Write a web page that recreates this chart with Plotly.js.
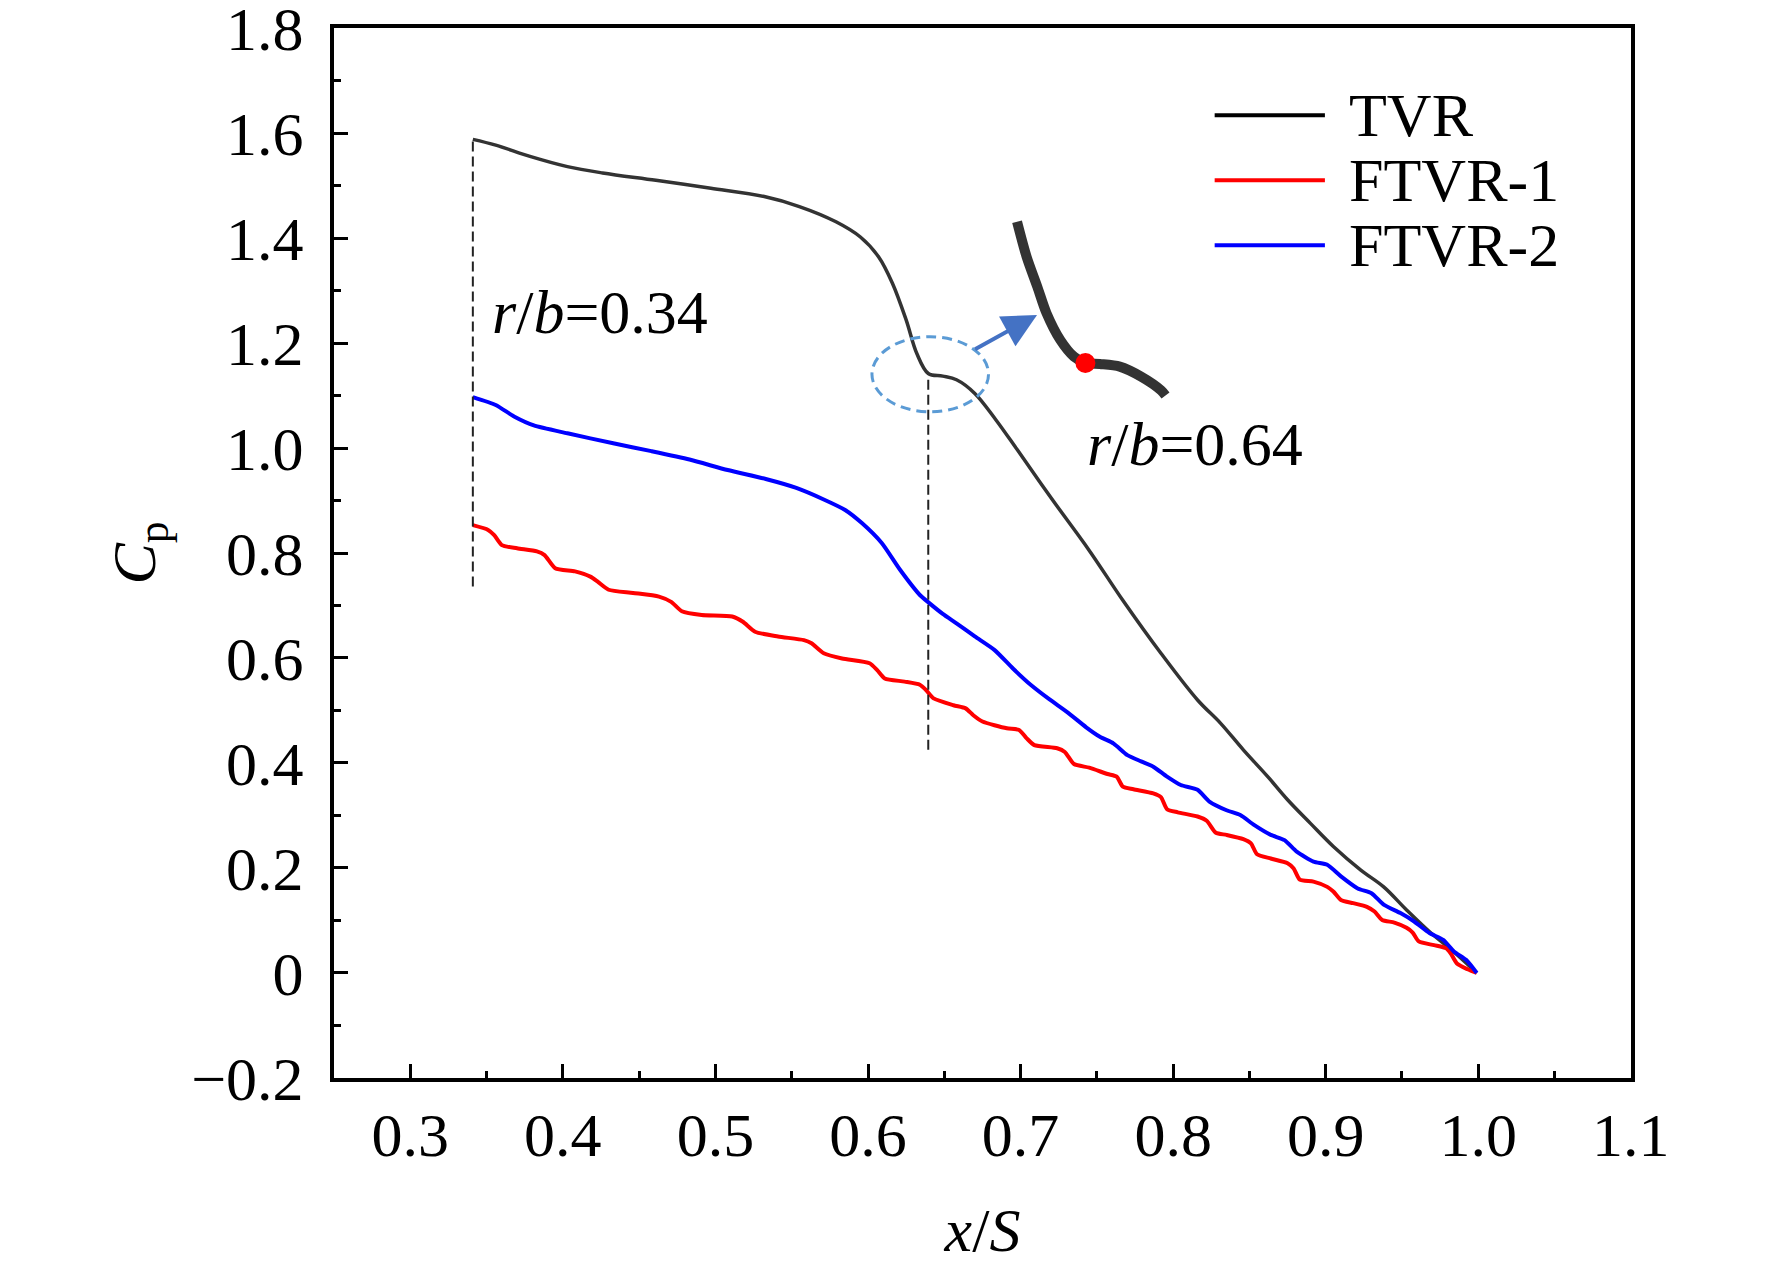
<!DOCTYPE html>
<html>
<head>
<meta charset="utf-8">
<script src="https://cdn.plot.ly/plotly-3.0.1.min.js"></script>
<style>body{margin:0;background:#fff}</style>
</head>
<body>
<div id="chart" style="width:1772px;height:1271px"></div>
<script>
// Cp along x/S
const tvrX = [0.341, 0.356, 0.379, 0.403, 0.426, 0.461, 0.497, 0.532, 0.555, 0.579,
              0.595, 0.607, 0.616, 0.625, 0.632, 0.6395, 0.649, 0.658, 0.670, 0.684,
              0.698, 0.721, 0.745, 0.767, 0.792, 0.816, 0.831, 0.846, 0.862, 0.875,
              0.890, 0.905, 0.923, 0.938, 0.953, 0.969, 0.984, 0.999];
const tvrCp = [1.588, 1.577, 1.555, 1.536, 1.524, 1.510, 1.495, 1.479, 1.460, 1.431,
               1.402, 1.364, 1.314, 1.244, 1.180, 1.142, 1.137, 1.130, 1.104, 1.053,
               0.996, 0.901, 0.805, 0.710, 0.609, 0.520, 0.476, 0.425, 0.374, 0.330,
               0.285, 0.241, 0.196, 0.164, 0.120, 0.076, 0.040, 0.000];

const ftvr1X = [0.341, 0.351, 0.355, 0.360, 0.370, 0.383, 0.388, 0.395, 0.408, 0.418,
                0.423, 0.430, 0.446, 0.463, 0.471, 0.478, 0.491, 0.511, 0.518, 0.526,
                0.541, 0.558, 0.563, 0.571, 0.583, 0.601, 0.606, 0.611, 0.624, 0.634,
                0.638, 0.643, 0.656, 0.664, 0.669, 0.675, 0.691, 0.699, 0.704, 0.709,
                0.724, 0.729, 0.735, 0.745, 0.757, 0.763, 0.767, 0.774, 0.787, 0.792,
                0.796, 0.803, 0.816, 0.822, 0.828, 0.835, 0.846, 0.851, 0.855, 0.864,
                0.875, 0.879, 0.883, 0.892, 0.901, 0.905, 0.910, 0.918, 0.927, 0.932,
                0.937, 0.945, 0.953, 0.957, 0.961, 0.971, 0.979, 0.982, 0.986, 0.993,
                0.999];
const ftvr1Cp = [0.853, 0.844, 0.834, 0.815, 0.809, 0.803, 0.796, 0.771, 0.765, 0.755,
                 0.745, 0.730, 0.724, 0.717, 0.707, 0.689, 0.682, 0.679, 0.669, 0.650,
                 0.641, 0.634, 0.628, 0.609, 0.599, 0.590, 0.577, 0.561, 0.555, 0.549,
                 0.539, 0.523, 0.510, 0.504, 0.491, 0.479, 0.466, 0.463, 0.447, 0.434,
                 0.428, 0.421, 0.398, 0.391, 0.379, 0.374, 0.355, 0.350, 0.342, 0.335,
                 0.312, 0.306, 0.298, 0.290, 0.267, 0.263, 0.255, 0.247, 0.226, 0.218,
                 0.209, 0.199, 0.178, 0.174, 0.164, 0.155, 0.139, 0.133, 0.126, 0.117,
                 0.101, 0.096, 0.086, 0.077, 0.060, 0.053, 0.047, 0.037, 0.018, 0.007,
                 0.000];

const ftvr2X = [0.341, 0.356, 0.368, 0.381, 0.403, 0.433, 0.458, 0.483, 0.508, 0.533,
                0.553, 0.571, 0.585, 0.596, 0.609, 0.621, 0.634, 0.640, 0.649, 0.658,
                0.670, 0.683, 0.695, 0.707, 0.719, 0.731, 0.743, 0.752, 0.761, 0.770,
                0.779, 0.787, 0.796, 0.805, 0.816, 0.824, 0.835, 0.844, 0.853, 0.864,
                0.873, 0.881, 0.892, 0.901, 0.910, 0.921, 0.930, 0.938, 0.949, 0.958,
                0.968, 0.977, 0.984, 0.992, 0.999];
const ftvr2Cp = [1.097, 1.082, 1.060, 1.043, 1.028, 1.009, 0.994, 0.978, 0.958, 0.941,
                 0.924, 0.902, 0.882, 0.857, 0.819, 0.768, 0.720, 0.705, 0.684, 0.666,
                 0.641, 0.615, 0.580, 0.548, 0.521, 0.496, 0.468, 0.450, 0.437, 0.415,
                 0.403, 0.393, 0.374, 0.358, 0.349, 0.326, 0.310, 0.301, 0.282, 0.263,
                 0.253, 0.231, 0.212, 0.206, 0.184, 0.161, 0.152, 0.130, 0.114, 0.098,
                 0.076, 0.063, 0.041, 0.025, 0.000];

// r/b marker lines
const refX = [0.341, 0.6395];
const refLow = [0.736, 0.425];
const refHigh = [1.588, 1.13];
const refLabels = ['<i>r</i>/<i>b</i>=0.34', '<i>r</i>/<i>b</i>=0.64'];

// magnified kink (inset) and its marked point
const insetX = [0.6977, 0.704, 0.711, 0.717, 0.726, 0.735, 0.7425, 0.752, 0.765, 0.779, 0.792, 0.795];
const insetCp = [1.431, 1.364, 1.307, 1.257, 1.206, 1.174, 1.162, 1.160, 1.155, 1.136, 1.110, 1.100];
const dotX = [0.7425];
const dotCp = [1.162];

// y tick labels as printed ("0" without decimals, the rest with one)
const yTickVals = [-0.2, 0, 0.2, 0.4, 0.6, 0.8, 1.0, 1.2, 1.4, 1.6, 1.8];
const yTickText = ['\u22120.2', '0', '0.2', '0.4', '0.6', '0.8', '1.0', '1.2', '1.4', '1.6', '1.8'];

const seriesNames = ['TVR', 'FTVR-1', 'FTVR-2'];
const seriesColors = ['#333333', '#ff0000', '#0000ff'];
const legendColors = ['#000000', '#ff0000', '#0000ff'];

const FONT = '"Liberation Serif", "Times New Roman", serif';

const traces = [
    { x: tvrX, y: tvrCp, name: seriesNames[0], mode: 'lines', line: { color: seriesColors[0], width: 3.5, shape: 'spline', smoothing: 1 } },
    { x: ftvr1X, y: ftvr1Cp, name: seriesNames[1], mode: 'lines', line: { color: seriesColors[1], width: 4, shape: 'spline', smoothing: 0.6 } },
    { x: ftvr2X, y: ftvr2Cp, name: seriesNames[2], mode: 'lines', line: { color: seriesColors[2], width: 4, shape: 'spline', smoothing: 0.6 } }
];

refX.forEach((rx, i) => {
    traces.push({ x: [rx, rx], y: [refLow[i], refHigh[i]], mode: 'lines', showlegend: false,
        line: { color: '#222', width: 2, dash: '10px,5px' } });
});

traces.push({ x: insetX, y: insetCp, mode: 'lines', showlegend: false,
    line: { color: '#333', width: 10, shape: 'spline', smoothing: 0.8 } });
traces.push({ x: dotX, y: dotCp, mode: 'markers', showlegend: false,
    marker: { color: '#ff0000', size: 20 } });

// hand-built legend (keys and labels)
const legY = [0.917, 0.855, 0.793];
const shapes = [{
    type: 'circle', xref: 'x', yref: 'y', x0: 0.6026, x1: 0.679, y0: 1.069, y1: 1.212,
    line: { color: '#5b9bd5', width: 3, dash: '10px,6px' }
}];
const annotations = [];
seriesNames.forEach((name, i) => {
    shapes.push({ type: 'line', xref: 'paper', yref: 'paper', x0: 0.679, x1: 0.764, y0: legY[i], y1: legY[i],
        line: { color: legendColors[i], width: 4 } });
    annotations.push({ xref: 'paper', yref: 'paper', x: 0.781, y: legY[i], xanchor: 'left', yanchor: 'middle',
        text: name, showarrow: false, font: { family: FONT, size: 62, color: '#000' } });
});

annotations.push({ x: 0.352, y: 1.26, xanchor: 'left', yanchor: 'middle', text: refLabels[0], showarrow: false,
    font: { family: FONT, size: 62, color: '#000' } });
annotations.push({ x: 0.7425, y: 1.0076, xanchor: 'left', yanchor: 'middle', text: refLabels[1], showarrow: false,
    font: { family: FONT, size: 62, color: '#000' } });
annotations.push({ x: 0.7108, y: 1.2533, ax: 0.6692, ay: 1.1867, axref: 'x', ayref: 'y', text: '',
    showarrow: true, arrowhead: 2, arrowsize: 1.7, arrowwidth: 4, arrowcolor: '#4472c4', standoff: 0 });

const axisBase = {
    showline: true, linewidth: 4, linecolor: '#000', mirror: true,
    showgrid: false, zeroline: false,
    ticks: 'inside', ticklen: 14, tickwidth: 3, tickcolor: '#000',
    ticklabeloverflow: 'allow',
    tickfont: { family: FONT, size: 62, color: '#000' }
};

const layout = {
    width: 1772, height: 1271, autosize: false,
    margin: { l: 334, r: 141, t: 28, b: 193 },
    paper_bgcolor: '#fff', plot_bgcolor: '#fff',
    showlegend: false,
    xaxis: { ...axisBase, range: [0.25, 1.1001], tick0: 0, dtick: 0.1, tickformat: '.1f',
        ticklabelstandoff: 0,
        minor: { dtick: 0.05, ticks: 'inside', ticklen: 7, tickwidth: 3, tickcolor: '#000', showgrid: false },
        title: { text: '<i>x</i>/<i>S</i>', font: { family: FONT, size: 62, color: '#000' }, standoff: 40 } },
    yaxis: { ...axisBase, range: [-0.2001, 1.8001], tickmode: 'array', tickvals: yTickVals, ticktext: yTickText,
        ticklabelstandoff: 14,
        minor: { dtick: 0.1, ticks: 'inside', ticklen: 7, tickwidth: 3, tickcolor: '#000', showgrid: false },
        title: { text: '<i>C</i><sub>p</sub>', font: { family: FONT, size: 62, color: '#000' }, standoff: 16 } },
    shapes: shapes,
    annotations: annotations
};

Plotly.newPlot('chart', traces, layout, { displayModeBar: false, staticPlot: true });
</script>
</body>
</html>
